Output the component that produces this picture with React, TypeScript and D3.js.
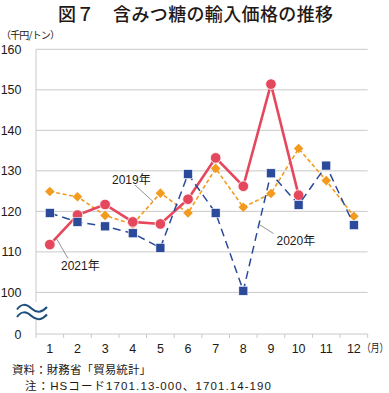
import React from "react";
import * as d3 from "d3";

// 月別の輸入価格（千円/トン）
const months = [1, 2, 3, 4, 5, 6, 7, 8, 9, 10, 11, 12];
const price2019 = [124.9, 123.6, 119.0, 116.8, 124.5, 119.6, 130.6, 121.0, 124.4, 135.5, 127.6, 118.8];
const price2020 = [119.6, 117.4, 116.3, 114.6, 111.0, 129.2, 119.6, 100.4, 129.4, 121.6, 131.3, 116.6];
const price2021 = [111.8, 119.1, 121.7, 117.4, 116.9, 123.0, 133.2, 126.2, 151.4, 124.0];
const yTicks = [0, 100, 110, 120, 130, 140, 150, 160];

const W = 389;
const H = 393;
const left = 36;
const right = 367.7;
const top = 49.3;
const bottom = 334;

const num = "'Liberation Sans', Arial, 'Noto Sans CJK JP', sans-serif";
const jp = "'Noto Sans CJK JP', 'Liberation Sans', sans-serif";

export default function App() {
  const x = d3.scaleBand<number>().domain(months).range([left, right]);
  // 0〜100 は省略（波線）なので区分線形スケール
  const y = d3.scaleLinear().domain([0, 100, 160]).range([bottom, 292.4, top]);
  const cx = (m: number) => (x(m) as number) + x.bandwidth() / 2;

  const line = d3
    .line<number>()
    .x((_, i) => cx(months[i]))
    .y((d) => y(d));

  const wave = (yc: number) =>
    `M17,${yc + 1} C21,${yc - 5} 26,${yc - 5} 31.5,${yc} S42,${yc + 4} 47,${yc - 1.5}`;

  const boundaries = d3.range(months.length + 1).map((i) => left + i * x.bandwidth());

  return (
    <div style={{ position: "absolute", left: 0, top: 0 }}>
      <svg width={W} height={H} style={{ display: "block", background: "#fff" }}>
        <text x={58} y={21} fontFamily={jp} fontSize={18} fontWeight={500} fill="#231815" textLength={275} lengthAdjust="spacing">
          図７　含みつ糖の輸入価格の推移
        </text>
        <text x={1} y={39} fontFamily={jp} fontSize={10} fill="#231815" textLength={59} lengthAdjust="spacing">
          （千円/トン）
        </text>

        {/* grid */}
        {yTicks.filter((t) => t >= 100).map((t) => (
          <line key={t} x1={left} x2={right} y1={y(t)} y2={y(t)} stroke="#c9c9c9" strokeWidth={1} />
        ))}
        <line x1={left} x2={left} y1={top} y2={bottom} stroke="#c9c9c9" strokeWidth={1} />
        <line x1={left} x2={right} y1={bottom} y2={bottom} stroke="#c9c9c9" strokeWidth={1} />
        {boundaries.map((b, i) => (
          <line key={i} x1={b} x2={b} y1={bottom} y2={bottom + 4} stroke="#c9c9c9" strokeWidth={1} />
        ))}

        {yTicks.map((t) => (
          <text key={t} x={21.5} y={y(t) + 4.5} textAnchor="end" fontFamily={num} fontSize={12.5} fill="#231815">
            {t}
          </text>
        ))}
        {months.map((m) => (
          <text key={m} x={cx(m)} y={352.5} textAnchor="middle" fontFamily={num} fontSize={12.5} fill="#231815">
            {m}
          </text>
        ))}
        <text transform="translate(362,352) scale(0.8,1)" fontFamily={jp} fontSize={11} fill="#231815">
          （月）
        </text>

        {/* 省略記号 */}
        <rect x={15} y={302} width={34} height={18} fill="#fff" />
        <path d={wave(308.5)} fill="none" stroke="#1d4e7e" strokeWidth={2} />
        <path d={wave(316)} fill="none" stroke="#1d4e7e" strokeWidth={2} />

        {/* 2019 */}
        <path d={line(price2019) || ""} fill="none" stroke="#f39b1f" strokeWidth={1.6} strokeDasharray="4,2.5" />
        {price2019.map((v, i) => (
          <rect
            key={i}
            x={-3.4}
            y={-3.4}
            width={6.8}
            height={6.8}
            fill="#f39b1f"
            transform={`translate(${cx(months[i])},${y(v)}) rotate(45)`}
          />
        ))}

        {/* 2021 */}
        <path d={line(price2021) || ""} fill="none" stroke="#e5475c" strokeWidth={2.6} />
        {price2021.map((v, i) => (
          <circle key={i} cx={cx(months[i])} cy={y(v)} r={5.3} fill="#e5475c" stroke="#fff" strokeWidth={0.8} />
        ))}

        {/* 2020 */}
        <path d={line(price2020) || ""} fill="none" stroke="#2b4a9b" strokeWidth={1.5} strokeDasharray="8,5" />
        {price2020.map((v, i) => (
          <rect
            key={i}
            x={cx(months[i]) - 4.5}
            y={y(v) - 4.5}
            width={9}
            height={9}
            fill="#2b4a9b"
            stroke="#fff"
            strokeWidth={0.6}
          />
        ))}

        {/* 系列ラベル */}
        <line x1={135} y1={185} x2={153} y2={201.5} stroke="#777" strokeWidth={0.8} />
        <text x={112} y={183.5} fontFamily={num} fontSize={12} fill="#231815">
          2019年
        </text>
        <line x1={260} y1={225} x2={273.5} y2={233.5} stroke="#777" strokeWidth={0.8} />
        <text x={276.5} y={244.5} fontFamily={num} fontSize={12} fill="#231815">
          2020年
        </text>
        <line x1={56.5} y1={238.5} x2={68} y2={258.5} stroke="#777" strokeWidth={0.8} />
        <text x={61} y={270} fontFamily={num} fontSize={12} fill="#231815">
          2021年
        </text>

        {/* 出典・注 */}
        <text x={12} y={374} fontFamily={jp} fontSize={11.5} fill="#231815" textLength={139} lengthAdjust="spacing">
          資料：財務省「貿易統計」
        </text>
        <text x={25} y={390} fontFamily={num} fontSize={11.5} fill="#231815" textLength={246} lengthAdjust="spacing">
          注：HSコード1701.13-000、1701.14-190
        </text>
      </svg>
    </div>
  );
}
